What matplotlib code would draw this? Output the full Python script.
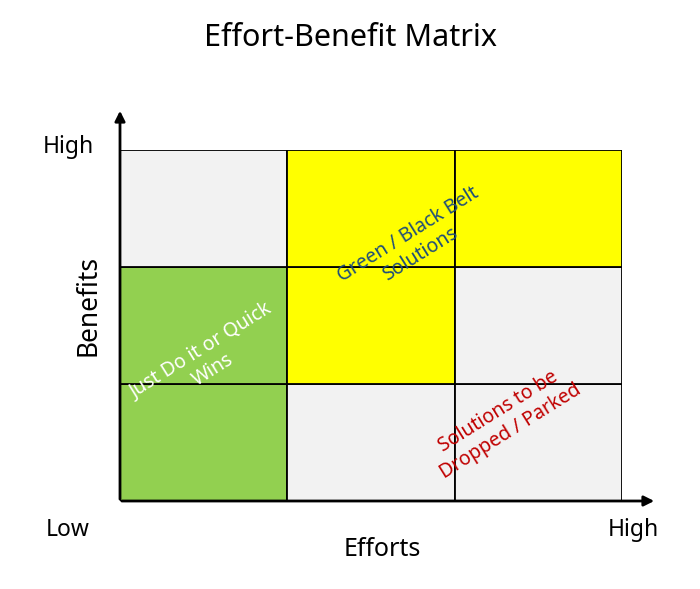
import matplotlib
matplotlib.use("Agg")
import matplotlib.pyplot as plt
from matplotlib.patches import Rectangle

plt.rcParams['font.family'] = ['Noto Sans', 'DejaVu Sans']

effort_levels = ["Low", "Medium", "High"]
benefit_levels = ["Low", "Medium", "High"]
# cell colours: rows = benefit (low..high), cols = effort (low..high)
cell_colors = [
    ["#92d050", "#f2f2f2", "#f2f2f2"],
    ["#92d050", "#ffff00", "#f2f2f2"],
    ["#f2f2f2", "#ffff00", "#ffff00"],
]
zone_labels = ["Just Do it or Quick\nWins", "Green / Black Belt\nSolutions", "Solutions to be\nDropped / Parked"]
zone_pos = [(0.52, 1.2), (1.76, 2.19), (2.3, 0.68)]
zone_colors = ["white", "#1f4e79", "#c00000"]

W, H = 700, 589
fig = plt.figure(figsize=(W/100, H/100), dpi=100)
ax = fig.add_axes([120/W, 1-501/H, 502/W, 351/H])
for r, row in enumerate(cell_colors):
    for c, col in enumerate(row):
        ax.add_patch(Rectangle((c, r), 1, 1, facecolor=col, edgecolor="black", lw=1.3))
ax.set_xlim(0, 3); ax.set_ylim(0, 3)
ax.axis("off")
for (x, y), t, col in zip(zone_pos, zone_labels, zone_colors):
    ax.text(x, y, t, rotation=32, ha="center", va="center", color=col, fontsize=14,
            multialignment="center", rotation_mode="anchor")

ax.annotate("", xy=(120/W, 1-108/H), xytext=(120/W, 1-502/H), xycoords="figure fraction",
            arrowprops=dict(arrowstyle="-|>", color="black", lw=2, mutation_scale=15))
ax.annotate("", xy=(657/W, 1-501/H), xytext=(119/W, 1-501/H), xycoords="figure fraction",
            arrowprops=dict(arrowstyle="-|>", color="black", lw=2, mutation_scale=15))

fig.text(350/W, 1-38/H, "Effort-Benefit Matrix", ha="center", va="center", fontsize=22)
fig.text(68/W, 1-147/H, "High", ha="center", va="center", fontsize=16.5)
fig.text(68/W, 1-530/H, "Low", ha="center", va="center", fontsize=16.5)
fig.text(633/W, 1-530/H, "High", ha="center", va="center", fontsize=16.5)
fig.text(382/W, 1-550/H, "Efforts", ha="center", va="center", fontsize=18)
fig.text(88/W, 1-305/H, "Benefits", ha="center", va="center", fontsize=19, rotation=90)

fig.savefig("out.png", dpi=100)
